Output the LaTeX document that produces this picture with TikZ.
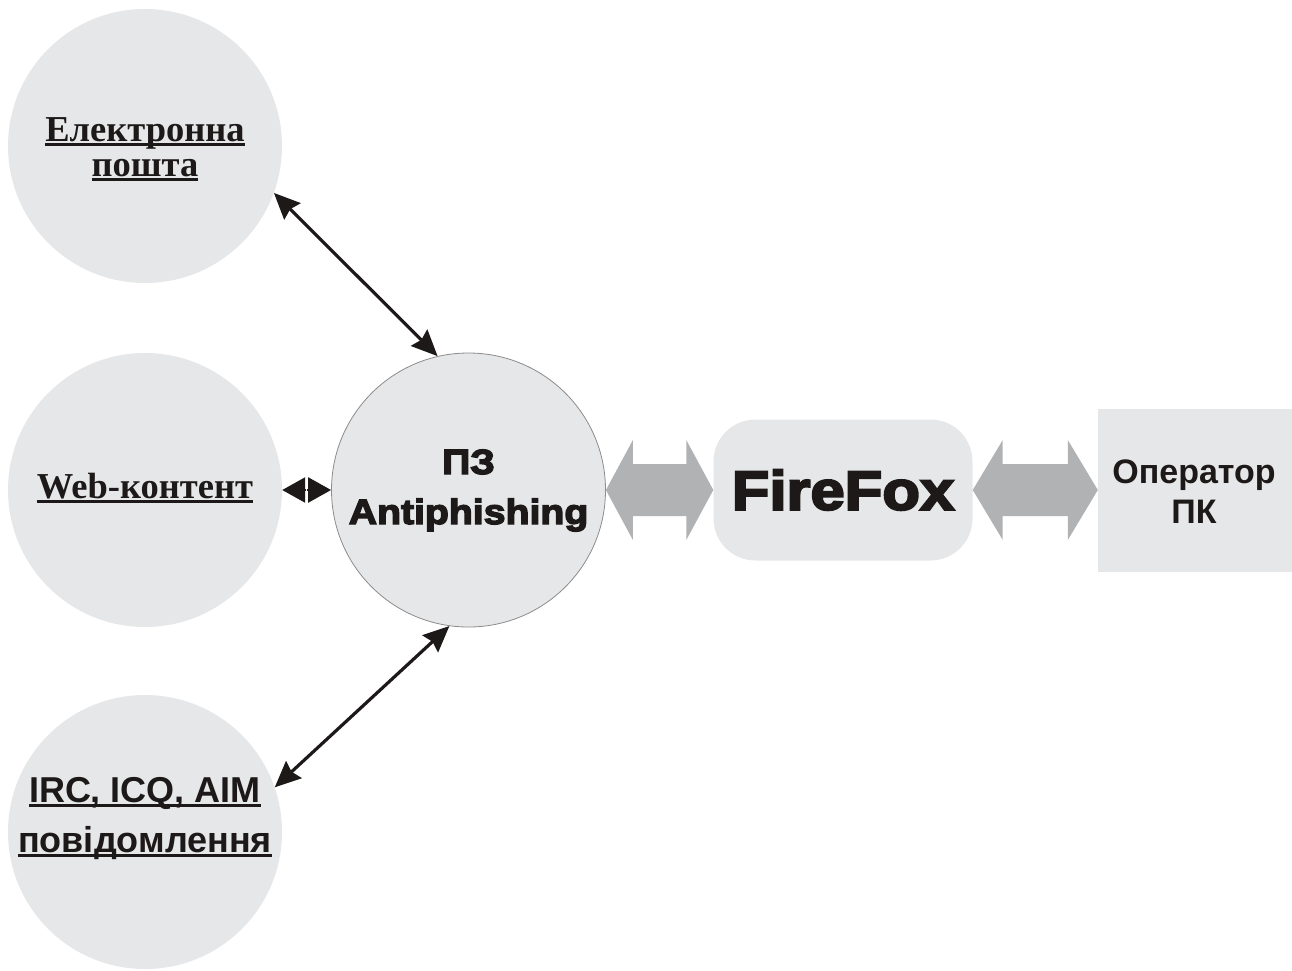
\documentclass[tikz,border=0pt]{standalone}
\usepackage{fontspec}
\setmainfont{Liberation Serif}
\newfontfamily\arialf{Liberation Sans}
\newfontfamily\arialblk[FakeBold=4,FakeStretch=1.12]{Liberation Sans}
\usetikzlibrary{arrows.meta,calc}
\definecolor{shapegray}{RGB}{230,231,232}
\definecolor{arrowgray}{RGB}{177,178,180}
\definecolor{edgegray}{RGB}{140,140,140}
\definecolor{inkblack}{RGB}{30,25,25}
\newcommand\myul[1]{\setbox0\hbox{#1}\rlap{\rule[-0.13em]{\wd0}{0.065em}}\box0}
\newcommand\bigarrow[3]{%
  \fill[arrowgray] let \p1=(#1), \p2=(#2) in
  (\x1,\y1) -- (\x1+#3,\y1+50pt) -- (\x1+#3,\y1+26pt) -- (\x2-#3,\y1+26pt) --
  (\x2-#3,\y1+50pt) -- (\x2,\y1) -- (\x2-#3,\y1-50pt) -- (\x2-#3,\y1-26pt) --
  (\x1+#3,\y1-26pt) -- (\x1+#3,\y1-50pt) -- cycle;}
\tikzset{
  srccircle/.style={circle, fill=shapegray, minimum size=274pt, inner sep=0pt},
  serifl/.style={align=center, anchor=base, inner sep=0pt, text=inkblack,
    font=\fontsize{36.5}{35}\selectfont\bfseries},
  sansl/.style={align=center, anchor=base, inner sep=0pt, text=inkblack,
    font=\arialf\fontsize{36}{50}\selectfont\bfseries},
  tipb/.tip={Stealth[length=26pt,width=23pt,inset=3pt]},
  tipm/.tip={Triangle[length=23pt,width=25pt]},
  blk/.style={draw=inkblack, line width=3.2pt, tipb-tipb},
  blkm/.style={draw=inkblack, fill=inkblack, line width=2.5pt, -tipm},
}
\begin{document}
\begin{tikzpicture}[x=1pt,y=-1pt]
\useasboundingbox (0,0) rectangle (1292,970);
\node[srccircle] (em) at (145,146) {};
\node[srccircle] (web) at (145,490) {};
\node[srccircle] (irc) at (145,832) {};
\node[srccircle, draw=edgegray, line width=0.8pt] (pz) at (468.5,490) {};
\node[fill=shapegray, rounded corners=42pt, minimum width=259pt, minimum height=141pt, inner sep=0pt,
  text=inkblack, font=\arialblk\fontsize{55}{55}\selectfont\bfseries] (ff) at (843,490) {FireFox};
\node[fill=shapegray, minimum width=194pt, minimum height=163pt, inner sep=0pt] (op) at (1195,490.5) {};

\node[serifl] (emt) at (145,176) {\myul{Електронна}\\\myul{пошта}};
\node[serifl] (webt) at (145,498) {\myul{Web-контент}};
\node[sansl] (irct) at (145,852) {\myul{IRC, ICQ, AIM}\\\myul{повідомлення}};
\node[align=center, anchor=base, inner sep=0pt, text=inkblack,
  font=\arialblk\fontsize{35}{50}\selectfont\bfseries] (pzt) at (468.5,524) {ПЗ\\Antiphishing};
\node[align=center, anchor=base, inner sep=0pt, text=inkblack,
  font=\arialf\fontsize{34}{40}\selectfont\bfseries] (opt) at (1194,523) {Оператор\\ПК};

\bigarrow{pz.east}{ff.west}{27pt}
\bigarrow{ff.east}{op.west}{30pt}

\draw[blk] (em.-20.4) -- (pz.103.1);
\coordinate (wm) at ($(web.east)!0.5!(pz.west)$);
\draw[blkm] (wm) -- (web.east);
\draw[blkm] (wm) -- (pz.west);
\draw[white, line width=1.2pt] ($(wm)+(0,-6)$) -- ($(wm)+(0,6)$);
\draw[blk] (irc.19.1) -- (pz.262.3);
\end{tikzpicture}
\end{document}
